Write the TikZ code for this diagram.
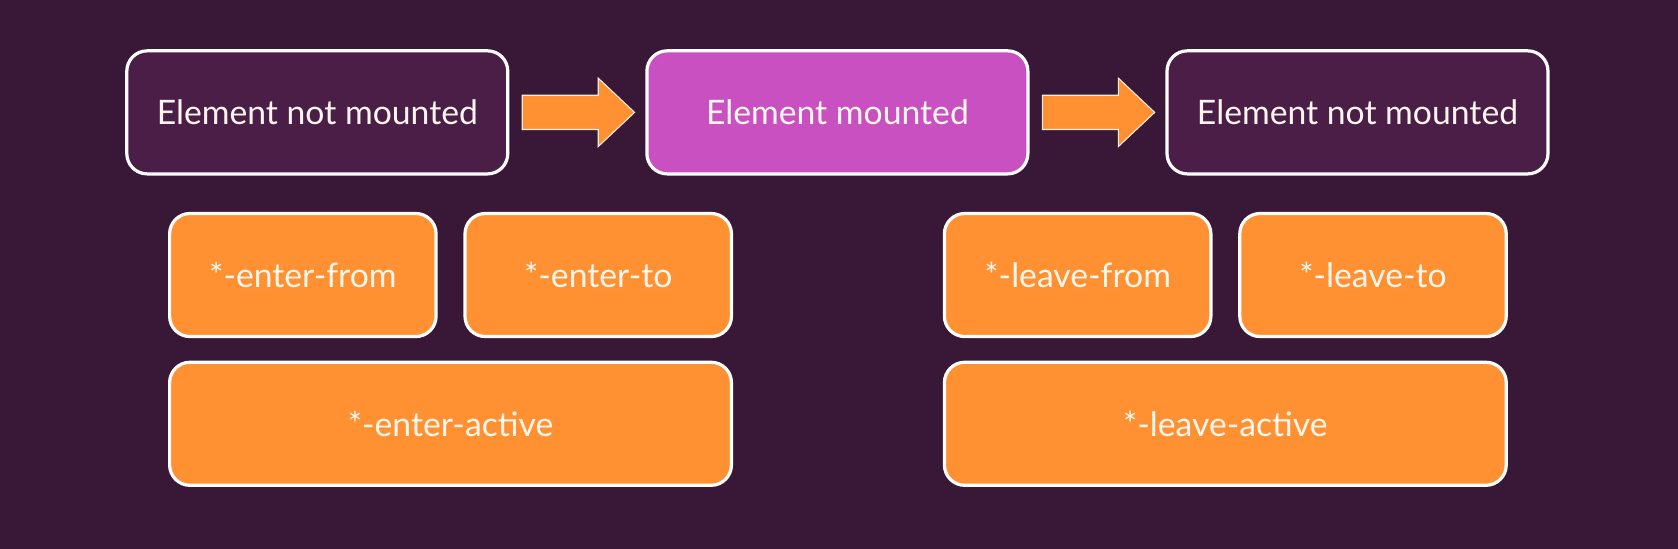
\documentclass[tikz,border=0pt]{standalone}
\usepackage{fontspec}
\setmainfont{Lato}
\usetikzlibrary{calc}
\definecolor{bg}{HTML}{381836}
\definecolor{darkbox}{HTML}{4B1E48}
\definecolor{pinkbox}{HTML}{C950C0}
\definecolor{orangebox}{HTML}{FF9132}
\definecolor{txt}{HTML}{FFF6EE}
\tikzset{
  boxbase/.style={draw=white, line width=3pt, rounded corners=19pt, text=txt,
    font=\fontsize{31.5}{36}\selectfont, inner sep=0pt, anchor=north west},
  statebox/.style={boxbase, fill=darkbox, minimum width=356pt, minimum height=115pt},
  activebox/.style={boxbase, fill=pinkbox, minimum width=356pt, minimum height=115pt},
  smallbox/.style={boxbase, fill=orangebox, minimum width=249pt, minimum height=115pt},
  widebox/.style={boxbase, fill=orangebox, minimum width=525pt, minimum height=115pt},
  blockarrow/.style={fill=orangebox, draw=white!85!orangebox, line width=1pt, line join=miter},
}
\begin{document}
\begin{tikzpicture}[x=1pt,y=-1pt]
\fill[bg] (0,0) rectangle (1568,513);
\useasboundingbox (0,0) rectangle (1568,513);
\node[statebox] (n1) at (117,46) {Element not mounted};
\node[activebox] (m) at (603,46) {Element mounted};
\node[statebox] (n2) at (1089,46) {Element not mounted};
\node[smallbox] (ef) at (157,198) {*-enter-from};
\node[smallbox] (et) at (433,198) {*-enter-to};
\node[widebox] (ea) at (157,337) {*-enter-active};
\node[smallbox] (lf) at (881,198) {*-leave-from};
\node[smallbox] (lt) at (1157,198) {*-leave-to};
\node[widebox] (la) at (881,337) {*-leave-active};
\foreach \a/\b in {n1/m, m/n2}{
  \draw[blockarrow] ($(\a.east)+(12,-16)$) -- ($(\b.west)+(-44,-16)$) -- ($(\b.west)+(-44,-32)$)
    -- ($(\b.west)+(-10,0)$) -- ($(\b.west)+(-44,32)$) -- ($(\b.west)+(-44,16)$)
    -- ($(\a.east)+(12,16)$) -- cycle;
}
\end{tikzpicture}
\end{document}
